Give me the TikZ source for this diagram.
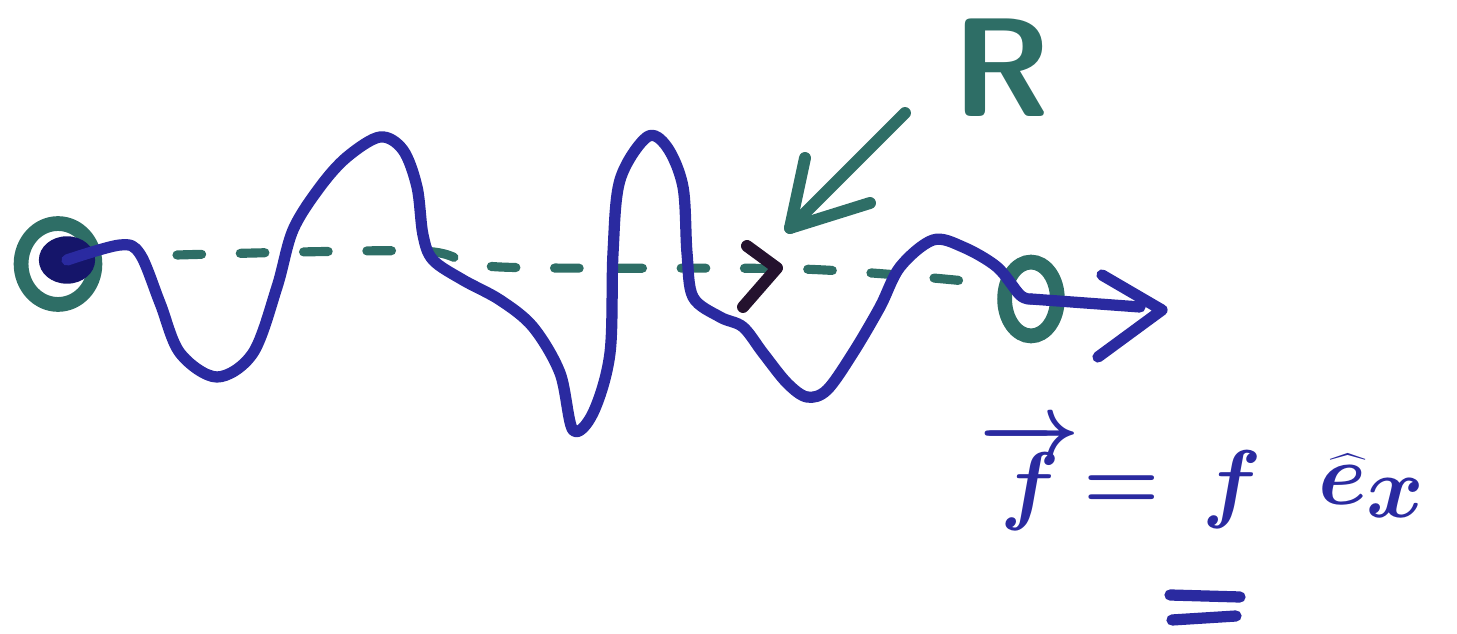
\documentclass[tikz,border=0pt]{standalone}
\usetikzlibrary{shapes.geometric}
\definecolor{ink}{HTML}{2A2AA0}
\definecolor{inkdark}{HTML}{15156A}
\definecolor{teal2}{HTML}{2E6E66}
\definecolor{blk}{HTML}{24122E}
\tikzset{
  chain/.style={draw=ink, line width=3.2pt, line cap=round, line join=round},
  tealline/.style={draw=teal2, line width=3.4pt, line cap=round, line join=round},
  ring/.style={ellipse, draw=teal2, line width=4.2pt, inner sep=0pt},
  dashline/.style={draw=teal2, line width=2.6pt, line cap=round, dash pattern=on 7pt off 11pt},
  txt/.style={text=ink, inner sep=0pt},
}
\begin{document}
\begin{tikzpicture}[x=0.01cm, y=-0.01cm]
\useasboundingbox (0,0) rectangle (1457,634);
% end rings and dot
\node[ring, minimum width=21pt, minimum height=23pt] (start) at (58,264) {};
\node[ellipse, fill=inkdark, minimum width=16pt, minimum height=13.5pt, inner sep=0pt] (dot) at (67,260) {};
\node[ring, minimum width=15pt, minimum height=21pt] (end) at (1031,299) {};
% dashed end-to-end vector R
\draw[dashline] plot[smooth, tension=0.5] coordinates {(177,255) (420,251) (500,267) (800,269) (965,281)};
% black arrowhead on R
\coordinate (rtip) at (777,268);
\draw[draw=blk, line width=3.4pt, line cap=round, line join=round] (747,246) -- (rtip) -- (743,307);
% polymer chain
\draw[chain] plot[smooth, tension=0.55] coordinates {
 (dot.center) (120,245) (140,254) (160,303) (180,353) (217,377) (253,353) (277,287)
 (293,230) (320,187) (347,157) (380,137) (403,150) (417,187) (423,235) (433,260)
 (463,280) (500,300) (533,327) (560,373) (573,430) (593,413) (610,353) (613,253)
 (620,180) (647,137) (667,147) (683,187) (687,253) (693,297) (720,317) (743,327)
 (763,353) (787,383) (807,397) (827,390) (853,353) (880,307) (900,267) (933,240)
 (963,247) (997,267) (1020,295) (end.center)};
% force arrow
\coordinate (ftip) at (1162,310);
\draw[chain] (end.center) -- (1140,307);
\draw[chain] (1102,275) -- (ftip) -- (1098,357);
% R label and arrow
\node[text=teal2, inner sep=0pt, font=\sffamily\bfseries\fontsize{40}{44}\selectfont] (Rlab) at (1002,68) {R};
\coordinate (rarr) at (790,228);
\draw[tealline] (905,113) -- (rarr);
\draw[tealline] (805,158) -- (rarr) -- (870,203);
% formula
\node[txt, font=\boldmath\fontsize{34}{40}\selectfont] (fv) at (1030,476) {$\overrightarrow{f}$};
\node[txt, font=\boldmath\fontsize{34}{40}\selectfont] (eq) at (1122,493) {$=$};
\node[txt, font=\boldmath\fontsize{38}{40}\selectfont] (ff) at (1232,490) {$f$};
\node[txt, font=\boldmath\fontsize{46}{48}\selectfont] (ex) at (1372,486) {$\widehat{e}_x$};
\draw[chain] (1170,595) -- (1240,597);
\draw[chain] (1172,620) -- (1236,616);
\end{tikzpicture}
\end{document}
